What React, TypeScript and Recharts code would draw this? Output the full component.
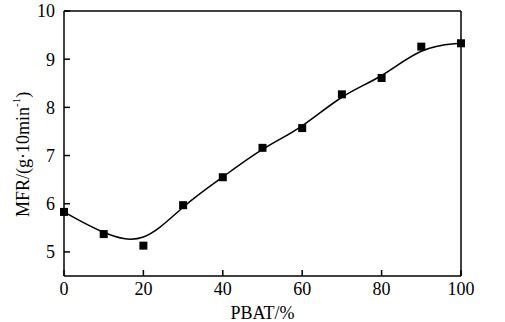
import { ComposedChart, Line, Scatter, XAxis, YAxis, ReferenceLine } from 'recharts';

const pbat = [0, 10, 20, 30, 40, 50, 60, 70, 80, 90, 100];
const mfr = [5.83, 5.37, 5.13, 5.97, 6.55, 7.16, 7.57, 8.27, 8.61, 9.26, 9.33];
const xTicks = [0, 20, 40, 60, 80, 100];
const yTicks = [5, 6, 7, 8, 9, 10];

const data = pbat.map((x, i) => ({ x, y: mfr[i] }));

const font = '"Liberation Serif", "Times New Roman", serif';
const tickStyle = { fontFamily: font, fontSize: 18, fill: '#000' };

function SquareDot(props: any) {
  const { cx, cy } = props;
  return <rect x={cx - 4} y={cy - 4} width={8} height={8} fill="#000" />;
}

function YLabel() {
  return (
    <text
      x={23}
      y={217}
      transform="rotate(-90, 23, 217)"
      textAnchor="start"
      dominantBaseline="central"
      fontFamily={font}
      fontSize={18}
      fill="#000"
    >
      MFR/(g·10min
      <tspan fontSize={11} dy={-7}>-1</tspan>
      <tspan dy={7}>)</tspan>
    </text>
  );
}

export default function App() {
  return (
    <div style={{ position: 'absolute', left: 0, top: 0, background: '#fff' }}>
      <ComposedChart
        width={505}
        height={322}
        data={data}
        margin={{ top: 11, right: 44, bottom: 0, left: 0 }}
      >
        <XAxis
          type="number"
          dataKey="x"
          domain={[0, 100]}
          ticks={xTicks}
          tickSize={-6}
          tickMargin={12}
          stroke="#000"
          strokeWidth={1.5}
          tick={tickStyle}
          height={46}
          label={{ value: 'PBAT/%', position: 'insideBottom', offset: 3, style: { fontFamily: font, fontSize: 18, fill: '#000' } }}
        />
        <YAxis
          type="number"
          domain={[4.5, 10]}
          ticks={yTicks}
          tickSize={-6}
          tickMargin={15}
          stroke="#000"
          strokeWidth={1.5}
          tick={tickStyle}
          width={64}
          label={{ content: () => <YLabel /> }}
        />
        <ReferenceLine y={10} stroke="#000" strokeWidth={1.5} />
        <ReferenceLine x={100} stroke="#000" strokeWidth={1.5} />
        <Line
          type="basis"
          dataKey="y"
          stroke="#000"
          strokeWidth={1.5}
          dot={false}
          isAnimationActive={false}
        />
        <Scatter dataKey="y" shape={SquareDot} isAnimationActive={false} />
      </ComposedChart>
    </div>
  );
}
